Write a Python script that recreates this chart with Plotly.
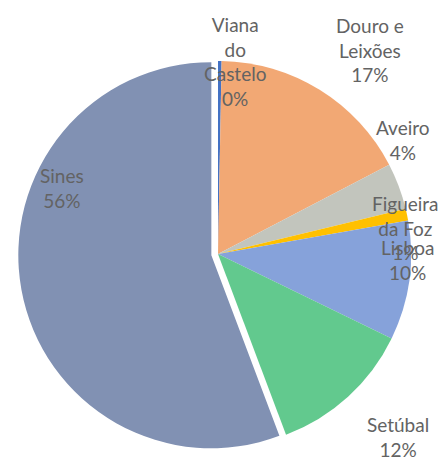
import plotly.graph_objects as go

labels = ["Viana do Castelo", "Douro e Leixões", "Aveiro", "Figueira da Foz", "Lisboa", "Setúbal", "Sines"]
label_lines = ["Viana<br>do<br>Castelo", "Douro e<br>Leixões", "Aveiro", "Figueira<br>da Foz", "Lisboa", "Setúbal", "Sines"]
values = [0.3, 17.1, 3.9, 1.0, 10.0, 12.1, 55.9]
pct_text = ["0%", "17%", "4%", "1%", "10%", "12%", "56%"]
colors = ["#4472c4", "#f2a874", "#c2c5bd", "#ffc000", "#86a2da", "#62c98e", "#8191b3"]
pulls = [0, 0, 0, 0, 0, 0, 0.035]

W, H = 438, 453
# label centres in figure pixels
label_px = [(227, 54), (362, 42), (395, 132), (397, 220), (399, 252), (390, 429), (54, 180)]

fig = go.Figure()
fig.add_trace(go.Pie(
    labels=labels, values=values, sort=False, direction="clockwise", rotation=0,
    marker=dict(colors=colors, line=dict(width=0)),
    pull=pulls, textinfo="none", hoverinfo="label+percent", showlegend=False,
    domain=dict(x=[10.2 / W, 409.8 / W], y=[1 - 445.8 / H, 1 - 46.2 / H]),
))

for name, pct, (px, py) in zip(label_lines, pct_text, label_px):
    fig.add_annotation(
        x=px / W, y=1 - py / H, xref="paper", yref="paper", showarrow=False,
        xanchor="center", yanchor="middle",
        text=f"{name}<br>{pct}", align="center",
        font=dict(family="Lato, Open Sans, sans-serif", size=19, color="#636363"),
    )

fig.update_layout(
    width=W, height=H, margin=dict(l=0, r=0, t=0, b=0),
    paper_bgcolor="white", plot_bgcolor="white",
)
fig.write_html("out.html")
